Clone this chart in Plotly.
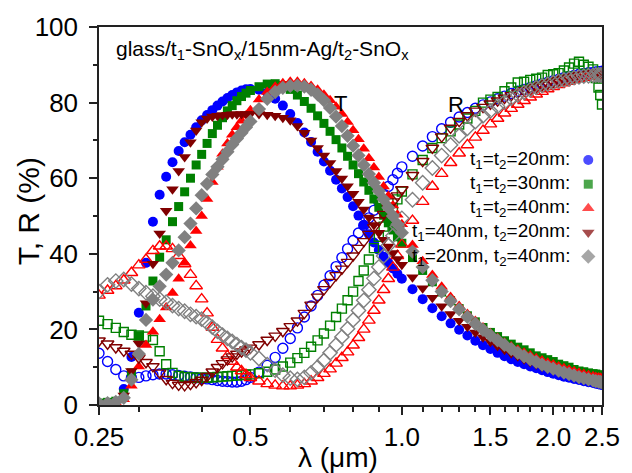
import math
import plotly.graph_objects as go

# ---------------- data ----------------
wavelength = [
    0.25, 0.26, 0.27, 0.28, 0.29, 0.30, 0.31, 0.32, 0.33, 0.34, 0.35, 0.36, 0.37,
    0.38, 0.39, 0.40, 0.41, 0.42, 0.43, 0.44, 0.45, 0.46, 0.47, 0.48, 0.49, 0.50,
    0.52, 0.54, 0.56, 0.58, 0.60, 0.62, 0.64, 0.66, 0.68, 0.70, 0.72, 0.74, 0.76,
    0.78, 0.80, 0.82, 0.84, 0.86, 0.88, 0.90, 0.92, 0.94, 0.96, 0.98, 1.00,
    1.05, 1.10, 1.15, 1.20, 1.25, 1.30, 1.35, 1.40, 1.45, 1.50, 1.55, 1.60, 1.65,
    1.70, 1.75, 1.80, 1.85, 1.90, 1.95, 2.00, 2.05, 2.10, 2.15, 2.20, 2.25, 2.30,
    2.35, 2.40, 2.43, 2.46, 2.48, 2.50,
]

T_20_20 = [
    0.4, 0.5, 0.8, 4.2, 12.7, 24.4, 37.6, 48.5, 55.6, 60.4, 64.2, 67.2, 69.5,
    71.5, 73.5, 75.3, 76.7, 78.0, 79.2, 80.3, 81.2, 82.0, 82.7, 83.2, 83.5, 83.6,
    83.4, 82.6, 81.0, 79.2, 77.0, 74.6, 72.1, 69.6, 67.0, 64.4, 62.0, 59.6, 57.3,
    55.0, 52.6, 50.1, 47.6, 45.2, 43.0, 41.0, 39.2, 37.6, 36.1, 34.7, 33.4,
    30.6, 28.0, 25.6, 23.5, 21.6, 19.9, 18.4, 17.0, 15.8, 14.8, 13.8, 12.9, 12.1,
    11.4, 10.8, 10.2, 9.7, 9.2, 8.7, 8.3, 7.9, 7.5, 7.2, 6.9, 6.6, 6.3,
    6.0, 5.8, 5.6, 5.5, 5.4, 5.3,
]
R_20_20 = [
    13.7, 11.5, 9.4, 7.7, 7.2, 7.3, 7.7, 8.0, 8.2, 8.2, 8.0, 7.8, 7.6,
    7.4, 7.2, 7.0, 6.9, 6.7, 6.5, 6.3, 6.2, 6.1, 6.1, 6.3, 6.7, 7.3,
    8.7, 10.5, 12.6, 15.0, 17.6, 20.4, 23.3, 26.2, 29.0, 31.7, 34.2, 36.6, 39.0,
    41.3, 43.5, 45.5, 47.5, 49.5, 51.5, 53.7, 55.8, 57.8, 59.6, 61.3, 63.0,
    65.8, 68.5, 71.0, 73.1, 74.8, 76.2, 77.4, 78.5, 79.4, 80.2, 81.0, 81.7, 82.4,
    83.0, 83.5, 84.0, 84.5, 85.0, 85.4, 85.8, 86.2, 86.6, 86.9, 87.2, 87.5, 87.7,
    87.9, 88.0, 88.1, 88.2, 88.2, 88.3,
]

T_30_30 = [
    0.5, 0.7, 1.0, 3.0, 8.5, 18.3, 26.2, 32.8, 39.1, 43.7, 48.5, 52.5, 56.4,
    60.0, 63.5, 66.3, 69.2, 71.8, 74.0, 76.0, 77.8, 79.2, 80.5, 81.6, 82.5, 83.2,
    84.2, 84.9, 85.0, 84.5, 83.5, 82.0, 80.3, 78.5, 76.5, 74.5, 72.4, 70.2, 68.0,
    65.8, 63.5, 61.2, 59.0, 56.8, 54.5, 52.3, 50.2, 48.2, 46.3, 44.5, 42.8,
    39.0, 35.6, 32.6, 29.9, 27.6, 25.5, 23.6, 22.0, 20.5, 19.2, 18.1, 17.0, 16.1,
    15.3, 14.6, 13.8, 13.0, 12.5, 12.0, 11.5, 10.8, 10.4, 10.0, 9.4, 9.0, 8.8,
    8.5, 8.3, 8.2, 8.0, 7.9, 7.8,
]
R_30_30 = [
    22.3, 21.4, 20.4, 19.3, 18.6, 18.4, 18.1, 17.2, 14.2, 10.8, 8.5, 7.7, 7.4,
    7.3, 7.2, 7.2, 7.2, 7.3, 7.4, 7.5, 7.6, 7.7, 7.8, 7.9, 8.0, 8.1,
    8.4, 8.8, 9.4, 10.2, 11.2, 12.4, 13.8, 15.4, 17.1, 18.9, 21.0, 23.3, 25.5,
    27.7, 30.0, 32.8, 35.6, 38.5, 41.5, 44.5, 47.2, 49.8, 52.2, 54.4, 56.5,
    61.0, 64.8, 68.0, 70.6, 72.4, 74.2, 75.8, 77.8, 80.0, 80.8, 81.5, 83.0, 84.0,
    85.3, 85.5, 86.0, 86.3, 86.6, 87.3, 87.5, 87.8, 88.5, 89.3, 90.3, 90.8, 90.0,
    89.5, 88.8, 86.5, 84.0, 82.0, 79.5,
]

T_40_40 = [
    0.3, 0.4, 0.6, 1.5, 5.1, 10.2, 15.9, 19.4, 22.7, 25.8, 29.6, 33.4, 37.6,
    42.2, 46.0, 50.0, 54.5, 59.0, 63.0, 66.5, 69.2, 71.5, 73.5, 75.2, 76.6, 78.0,
    80.8, 82.8, 84.2, 85.1, 85.5, 85.5, 85.1, 84.4, 83.4, 82.1, 80.6, 78.9, 77.0,
    74.9, 72.7, 70.3, 67.8, 65.3, 62.8, 60.3, 57.8, 55.3, 52.8, 50.3, 47.8,
    42.3, 38.0, 34.4, 31.3, 28.6, 26.2, 24.1, 22.2, 20.5, 19.0, 17.7, 16.5, 15.5,
    14.6, 13.8, 13.1, 12.4, 11.8, 11.2, 10.7, 10.2, 9.7, 9.3, 8.9, 8.5, 8.2,
    7.9, 7.6, 7.4, 7.3, 7.2, 7.1,
]
R_40_40 = [
    29.0, 30.3, 31.5, 33.0, 35.0, 37.0, 38.5, 40.8, 42.0, 42.0, 41.3, 39.5, 37.3,
    34.5, 31.5, 28.0, 24.3, 20.5, 17.3, 15.0, 13.0, 11.5, 10.0, 9.0, 8.0, 7.2,
    6.3, 5.6, 5.2, 5.0, 5.0, 5.2, 5.6, 6.3, 7.2, 8.3, 9.5, 11.0, 12.5,
    14.0, 15.8, 17.8, 20.0, 22.4, 25.0, 27.7, 30.5, 33.4, 36.4, 39.5, 42.5,
    48.8, 53.8, 57.8, 61.2, 64.1, 66.6, 68.8, 70.8, 72.6, 74.3, 75.8, 77.2, 78.4,
    79.5, 80.5, 81.4, 82.2, 82.9, 83.6, 84.2, 84.7, 85.2, 85.6, 86.0, 86.3, 86.6,
    86.8, 87.0, 87.1, 87.2, 87.3, 87.3,
]

T_40_20 = [
    0.3, 0.4, 0.6, 2.5, 9.0, 16.3, 26.9, 37.4, 45.4, 51.4, 57.1, 61.9, 65.6,
    69.5, 72.6, 74.8, 75.8, 76.3, 76.5, 76.7, 76.8, 76.9, 76.9, 77.0, 77.0, 77.0,
    77.0, 76.8, 76.5, 76.0, 75.3, 73.8, 72.0, 70.0, 68.0, 66.0, 64.0, 61.9, 59.9,
    57.9, 55.9, 53.8, 51.7, 49.6, 47.6, 45.6, 43.7, 41.9, 40.2, 38.6, 37.1,
    33.8, 30.9, 28.4, 26.1, 24.1, 22.3, 20.7, 19.2, 17.9, 16.7, 15.6, 14.6, 13.7,
    12.9, 12.1, 11.4, 10.8, 10.2, 9.7, 9.2, 8.7, 8.3, 7.9, 7.5, 7.1, 6.8,
    6.5, 6.2, 6.0, 5.9, 5.8, 5.7,
]
R_40_20 = [
    17.0, 16.2, 15.2, 14.3, 13.5, 12.5, 11.3, 10.2, 8.5, 6.8, 5.8, 5.3, 5.2,
    5.5, 6.0, 6.6, 7.6, 8.8, 10.0, 11.0, 12.0, 12.8, 13.5, 14.1, 14.6, 15.1,
    16.0, 17.2, 18.3, 19.5, 20.8, 22.3, 24.3, 26.5, 28.6, 30.6, 32.5, 34.3, 36.0,
    37.8, 39.5, 41.5, 43.3, 45.2, 47.0, 48.8, 50.5, 52.2, 53.8, 55.4, 57.0,
    60.8, 64.5, 68.0, 71.0, 73.3, 75.1, 76.6, 77.8, 78.8, 79.7, 80.5, 81.2, 81.9,
    82.6, 83.2, 83.7, 84.2, 84.7, 85.1, 85.5, 85.9, 86.3, 86.6, 86.9, 87.2, 87.4,
    87.6, 87.8, 87.9, 88.0, 88.0, 88.1,
]

T_20_40 = [
    0.4, 0.5, 0.8, 1.9, 6.7, 13.5, 22.5, 27.9, 31.4, 34.5, 37.6, 40.9, 44.4,
    48.0, 52.0, 55.5, 58.5, 61.0, 63.0, 65.0, 67.0, 68.9, 70.5, 72.0, 73.5, 75.0,
    78.3, 81.0, 82.8, 83.9, 84.4, 84.5, 84.2, 83.4, 82.2, 80.6, 78.6, 76.3, 73.8,
    71.2, 68.6, 66.0, 63.5, 61.1, 58.8, 56.6, 54.4, 52.2, 50.0, 47.8, 45.6,
    40.6, 36.5, 33.0, 30.0, 27.5, 25.3, 23.3, 21.5, 19.9, 18.4, 17.1, 15.9, 14.8,
    13.8, 12.9, 12.1, 11.4, 10.7, 10.1, 9.6, 9.1, 8.6, 8.2, 7.8, 7.4, 7.1,
    6.8, 6.5, 6.3, 6.2, 6.1, 6.0,
]
R_20_40 = [
    30.0, 31.8, 32.8, 33.2, 32.0, 30.8, 29.7, 28.8, 28.0, 27.2, 26.3, 25.5, 24.8,
    24.0, 23.4, 22.7, 21.7, 20.6, 19.5, 18.5, 17.6, 16.8, 16.0, 15.2, 14.5, 13.8,
    12.3, 10.7, 9.2, 7.9, 7.1, 6.8, 7.3, 8.5, 10.0, 11.8, 13.8, 15.9, 18.0,
    20.2, 22.5, 25.0, 27.7, 30.5, 33.5, 36.5, 39.4, 42.2, 44.8, 47.2, 49.4,
    54.3, 58.8, 62.7, 66.0, 68.8, 71.2, 73.2, 75.0, 76.5, 77.8, 79.0, 80.1, 81.1,
    82.0, 82.7, 83.4, 84.0, 84.5, 84.9, 85.3, 85.7, 86.0, 86.3, 86.6, 86.8, 87.0,
    87.1, 87.2, 87.3, 87.3, 87.3, 87.3,
]

legend_labels = [
    "t<sub>1</sub>=t<sub>2</sub>=20nm:",
    "t<sub>1</sub>=t<sub>2</sub>=30nm:",
    "t<sub>1</sub>=t<sub>2</sub>=40nm:",
    "t<sub>1</sub>=40nm, t<sub>2</sub>=20nm:",
    "t<sub>1</sub>=20nm, t<sub>2</sub>=40nm:",
]
x_tick_values = [0.25, 0.5, 1.0, 1.5, 2.0, 2.5]
x_tick_labels = ["0.25", "0.5", "1.0", "1.5", "2.0", "2.5"]
x_minor_values = [0.3, 0.4, 0.6, 0.7, 0.8, 0.9, 1.1, 1.2, 1.3, 1.4, 1.6, 1.7,
                  1.8, 1.9, 2.1, 2.2, 2.3, 2.4]

# ---------------- styles ----------------
colors = ["#0000FF", "#008000", "#FF0000", "#800000", "#808080"]
symbols = ["circle", "square", "triangle-up", "triangle-down", "diamond"]
sizes = [10, 9, 11, 11, 11]
T_series = [T_20_20, T_30_30, T_40_40, T_40_20, T_20_40]
R_series = [R_20_20, R_30_30, R_40_40, R_40_20, R_20_40]

FONT = "Arial, 'Liberation Sans', sans-serif"
AX = "#222222"

fig = go.Figure()
for i in range(5):
    fig.add_trace(go.Scatter(
        x=wavelength, y=R_series[i], mode="markers", showlegend=False,
        marker=dict(symbol=symbols[i] + "-open", size=sizes[i], color=colors[i],
                    line=dict(width=1.4, color=colors[i]))))
    fig.add_trace(go.Scatter(
        x=wavelength, y=T_series[i], mode="markers", showlegend=False,
        marker=dict(symbol=symbols[i], size=sizes[i], color=colors[i],
                    line=dict(width=0))))

# legend markers (on an invisible overlay axis in 0..1 plot units)
leg_top, leg_step = 0.648, 0.0638
leg_y = [leg_top - k * leg_step for k in range(5)]
fig.add_trace(go.Scatter(
    x=[0.9727] * 5, y=leg_y, xaxis="x2", yaxis="y2", mode="markers",
    showlegend=False, hoverinfo="skip",
    marker=dict(symbol=symbols, size=sizes, color=colors, line=dict(width=0))))

annotations = []
for k, lab in enumerate(legend_labels):
    annotations.append(dict(text=lab, x=0.941, y=leg_y[k], xref="paper", yref="paper",
                            xanchor="right", yanchor="middle", showarrow=False,
                            font=dict(size=19, family=FONT, color="black")))
annotations += [
    dict(text="glass/t<sub>1</sub>-SnO<sub>x</sub>/15nm-Ag/t<sub>2</sub>-SnO<sub>x</sub>",
         x=0.029, y=0.94, xref="paper", yref="paper", xanchor="left", yanchor="middle",
         showarrow=False, font=dict(size=21, family=FONT, color="black")),
    dict(text="T", x=0.4805, y=0.837, xref="paper", yref="paper", showarrow=False,
         font=dict(size=22, family=FONT, color="black")),
    dict(text="R", x=0.730, y=0.834, xref="paper", yref="paper", showarrow=False,
         font=dict(size=22, family=FONT, color="black")),
    dict(text="λ (μm)", x=0.4746, y=-0.138, xref="paper", yref="paper",
         xanchor="center", yanchor="middle", showarrow=False,
         font=dict(size=28, family=FONT, color="black")),
    dict(text="T, R (%)", x=-0.1406, y=0.513, xref="paper", yref="paper",
         xanchor="center", yanchor="middle", textangle=-90, showarrow=False,
         font=dict(size=30, family=FONT, color="black")),
]

fig.update_layout(
    width=632, height=473,
    margin=dict(l=99, r=21, t=25, b=68),
    plot_bgcolor="white", paper_bgcolor="white",
    showlegend=False,
    font=dict(family=FONT, color="black"),
    annotations=annotations,
    xaxis=dict(
        type="log", range=[math.log10(0.25), math.log10(2.5)],
        tickvals=x_tick_values, ticktext=x_tick_labels,
        ticks="outside", ticklen=8, tickwidth=1.5, tickcolor=AX,
        showline=True, linecolor=AX, linewidth=1.5, mirror=True,
        showgrid=False, zeroline=False,
        tickfont=dict(size=26, family=FONT, color="black"),
        minor=dict(tickvals=x_minor_values, ticks="outside", ticklen=5,
                   tickwidth=1.5, tickcolor=AX, showgrid=False),
    ),
    yaxis=dict(
        range=[0, 100], tickvals=[0, 20, 40, 60, 80, 100],
        ticks="outside", ticklen=8, tickwidth=1.5, tickcolor=AX,
        showline=True, linecolor=AX, linewidth=1.5, mirror=True,
        showgrid=False, zeroline=False,
        tickfont=dict(size=26, family=FONT, color="black"),
        ticklabelstandoff=6,
        minor=dict(tickvals=[10, 30, 50, 70, 90], ticks="outside", ticklen=4,
                   tickwidth=1.5, tickcolor=AX, showgrid=False),
    ),
    xaxis2=dict(overlaying="x", range=[0, 1], visible=False),
    yaxis2=dict(overlaying="y", range=[0, 1], visible=False),
)

fig.write_html("out.html")
